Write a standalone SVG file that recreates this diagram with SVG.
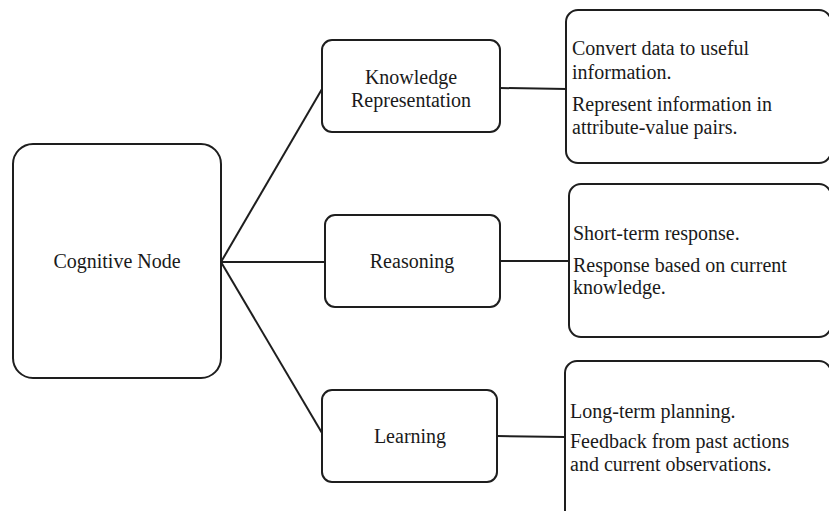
<svg xmlns="http://www.w3.org/2000/svg" width="829" height="511" viewBox="0 0 829 511" font-family="'Liberation Serif', Tinos, 'DejaVu Serif', serif">
  <style>
    .box { fill: #ffffff; stroke: #1e1e1e; stroke-width: 2; }
    .link { fill: none; stroke: #1e1e1e; stroke-width: 2; }
    .lbl { font-family: 'Liberation Serif', Tinos, 'DejaVu Serif', serif; font-size: 20px; fill: #1a1a1a; }
    .mid { text-anchor: middle; }
  </style>
  <rect x="0" y="0" width="829" height="511" fill="#ffffff"/>

  <g id="connectors">
    <line class="link" x1="221" y1="262" x2="322" y2="89"/>
    <line class="link" x1="221" y1="262" x2="325" y2="262"/>
    <line class="link" x1="221" y1="262" x2="322" y2="433"/>
    <line class="link" x1="500" y1="88" x2="567" y2="89"/>
    <line class="link" x1="500" y1="261" x2="568" y2="261"/>
    <line class="link" x1="497" y1="436" x2="565" y2="437"/>
  </g>

  <g id="cognitive-node">
    <rect class="box" x="13" y="144" width="208" height="234" rx="20"/>
    <text class="lbl mid" x="117" y="268">Cognitive Node</text>
  </g>

  <g id="knowledge-representation">
    <rect class="box" x="322" y="40" width="178" height="92" rx="10"/>
    <text class="lbl mid" x="411" y="84">Knowledge</text>
    <text class="lbl mid" x="411" y="107">Representation</text>
  </g>

  <g id="reasoning">
    <rect class="box" x="325" y="215" width="175" height="92" rx="10"/>
    <text class="lbl mid" x="412" y="268">Reasoning</text>
  </g>

  <g id="learning">
    <rect class="box" x="322" y="390" width="175" height="92" rx="10"/>
    <text class="lbl mid" x="410" y="443">Learning</text>
  </g>

  <g id="kr-detail">
    <rect class="box" x="566" y="10" width="265" height="153" rx="12"/>
    <text class="lbl" x="572" y="55">Convert data to useful</text>
    <text class="lbl" x="572" y="79">information.</text>
    <text class="lbl" x="572" y="111">Represent information in</text>
    <text class="lbl" x="572" y="134">attribute-value pairs.</text>
  </g>

  <g id="reasoning-detail">
    <rect class="box" x="569" y="184" width="262" height="153" rx="12"/>
    <text class="lbl" x="573" y="240">Short-term response.</text>
    <text class="lbl" x="573" y="272">Response based on current</text>
    <text class="lbl" x="573" y="294">knowledge.</text>
  </g>

  <g id="learning-detail">
    <rect class="box" x="565" y="361" width="266" height="170" rx="12"/>
    <text class="lbl" x="570" y="418">Long-term planning.</text>
    <text class="lbl" x="570" y="448">Feedback from past actions</text>
    <text class="lbl" x="570" y="471">and current observations.</text>
  </g>
</svg>
